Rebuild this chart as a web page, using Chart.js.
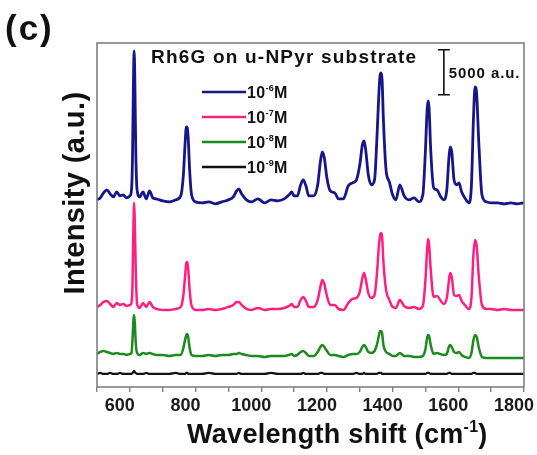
<!DOCTYPE html>
<html>
<head>
<meta charset="utf-8">
<script src="https://cdn.jsdelivr.net/npm/chart.js@4.4.1/dist/chart.umd.min.js"></script>
<style>
  html, body { margin: 0; padding: 0; background: #fff; }
  #wrap { width: 537px; height: 455px; }
</style>
</head>
<body>
<div id="wrap"><canvas id="myChart" width="537" height="455"></canvas></div>
<script>
'use strict';
// Raman shift (cm-1), shared by all four spectra
let shift = [
  500, 510, 520, 530, 540, 550, 560, 570, 580, 590, 600,
  605, 608, 611, 613, 615, 618, 622,
  630, 640, 650, 660, 670, 680, 700, 720, 740, 755,
  763, 768, 772, 775, 778, 782, 788,
  800, 820, 840, 860, 880, 900, 915, 925, 932, 940, 955, 970, 990, 1010, 1030, 1050, 1070, 1085,
  1093, 1100, 1110, 1120, 1128, 1136, 1145, 1160, 1172, 1180, 1186, 1192, 1200, 1210, 1224, 1235, 1250,
  1265, 1278, 1290, 1300, 1308, 1313, 1318, 1326, 1335, 1345,
  1352, 1358, 1362, 1365, 1368, 1372, 1380, 1390, 1400, 1410, 1422, 1435, 1450, 1465, 1480, 1492,
  1500, 1505, 1508, 1511, 1516, 1525, 1535, 1545, 1555, 1565, 1571, 1575, 1580, 1587, 1595, 1602, 1610, 1620, 1632,
  1640, 1646, 1651, 1656, 1662, 1672, 1685, 1700, 1720, 1740, 1760, 1780, 1800
];

// intensities (a.u.), spectra already stacked as in the figure
let m6 = [
  20780, 21000, 21560, 21890, 21450, 21110, 21670, 21220, 21340, 21000, 21220,
  21890, 25220, 34110, 37330, 34670, 26340, 21890,
  21110, 21670, 20890, 21780, 21000, 20890, 20670, 20560, 20780, 21220,
  23560, 26890, 28890, 28780, 27450, 24110, 21340,
  20560, 20450, 20560, 20340, 20560, 20780, 21110, 21780, 22000, 21450, 20780, 20560, 20890, 20450, 20780, 20670, 20890, 21340,
  21670, 21220, 21220, 22450, 23000, 22340, 21220, 21220, 22450, 25000, 26110, 25450, 23220, 21780, 21560, 20890, 20890,
  22340, 22670, 23000, 24670, 26890, 27340, 26340, 23560, 22450, 23000,
  27450, 32450, 34670, 34890, 34110, 29670, 24110, 22780, 21340, 20780, 22450, 21220, 20780, 21000, 20560, 21340,
  26340, 30780, 31780, 31000, 26340, 22110, 21890, 21220, 20780, 21890, 25220, 26670, 26110, 23000, 22450, 22670, 21670, 21000, 20450,
  22450, 29670, 33330, 32450, 27450, 21340, 20560, 20450, 20450, 20340, 20450, 20340, 20450
];
let m7 = [
  8890, 9110, 9450, 9560, 9220, 8890, 9330, 9110, 9220, 9000, 9110,
  9330, 11340, 18000, 20450, 18340, 13000, 9220,
  8780, 9330, 8890, 9450, 8890, 8670, 8560, 8560, 8670, 8890,
  10220, 12230, 13780, 13890, 13000, 10780, 9000,
  8560, 8560, 8670, 8560, 8670, 8890, 9110, 9450, 9450, 9110, 8670, 8560, 8780, 8560, 8670, 8670, 8780, 9000,
  9220, 8890, 8890, 9670, 10000, 9560, 8890, 8890, 9670, 11110, 11890, 11450, 10110, 9110, 9110, 8670, 8560,
  9330, 9780, 9890, 10560, 12110, 12670, 12000, 10440, 9890, 10220,
  12440, 15560, 16890, 17110, 16670, 13890, 10780, 9670, 8890, 8780, 9670, 9000, 8780, 8890, 8670, 9000,
  11890, 15220, 16440, 15890, 13000, 10000, 10110, 9670, 9220, 9890, 11670, 12670, 12230, 10220, 10110, 10220, 9560, 9110, 8670,
  9890, 14670, 16330, 15670, 12440, 9110, 8670, 8670, 8560, 8670, 8560, 8560, 8560
];
let m8 = [
  3670, 3890, 4000, 3890, 3780, 3670, 3780, 3670, 3670, 3560, 3670,
  3780, 5220, 7450, 8000, 7230, 4890, 3780,
  3560, 3780, 3670, 3780, 3670, 3560, 3560, 3450, 3560, 3560,
  4340, 5220, 5780, 5890, 5450, 4340, 3560,
  3450, 3450, 3560, 3450, 3560, 3560, 3670, 3670, 3780, 3670, 3560, 3450, 3450, 3340, 3450, 3450, 3450, 3560,
  3670, 3450, 3560, 3890, 4000, 3780, 3450, 3450, 3890, 4450, 4670, 4450, 4000, 3560, 3560, 3450, 3340,
  3560, 3670, 3670, 3890, 4450, 4670, 4450, 3890, 3780, 4000,
  4670, 5670, 6220, 6220, 6000, 4670, 3890, 3670, 3450, 3450, 3780, 3450, 3450, 3340, 3340, 3450,
  4230, 5450, 5780, 5670, 4670, 3670, 3780, 3670, 3560, 3670, 4450, 4670, 4450, 3890, 3780, 3890, 3560, 3340, 3230,
  3780, 5220, 5780, 5560, 4450, 3340, 3230, 3230, 3230, 3230, 3230, 3230, 3230
];
let m9 = [
  1450, 1560, 1450, 1450, 1560, 1450, 1450, 1560, 1450, 1450, 1450,
  1450, 1560, 1670, 1780, 1670, 1560, 1450,
  1450, 1450, 1560, 1450, 1450, 1450, 1450, 1450, 1560, 1450,
  1450, 1450, 1560, 1560, 1450, 1450, 1450,
  1450, 1450, 1560, 1450, 1450, 1450, 1450, 1450, 1560, 1450, 1450, 1450, 1450, 1450, 1560, 1450, 1450, 1450,
  1450, 1450, 1450, 1450, 1560, 1450, 1450, 1450, 1450, 1560, 1560, 1450, 1450, 1450, 1450, 1450, 1450,
  1450, 1450, 1560, 1450, 1450, 1560, 1450, 1450, 1450, 1450,
  1450, 1560, 1560, 1560, 1450, 1450, 1450, 1450, 1450, 1450, 1450, 1450, 1450, 1450, 1450, 1450,
  1450, 1560, 1560, 1560, 1450, 1450, 1450, 1450, 1450, 1450, 1560, 1560, 1450, 1450, 1450, 1450, 1450, 1450, 1450,
  1450, 1560, 1560, 1450, 1450, 1450, 1450, 1450, 1450, 1450, 1450, 1450, 1450
];

let legendExp = ['-6', '-7', '-8', '-9'];
let xTicks = [600, 800, 1000, 1200, 1400, 1600, 1800];
let scaleBarValue = 5000;

let colors = ['#16168a', '#ff1f80', '#1c8a1c', '#111111'];
let widths = [2.8, 2.5, 2.5, 2.2];
let series = [m6, m7, m8, m9];

function toPoints(arr) {
  return shift.map(function (x, i) { return { x: x, y: arr[i] }; });
}

const FONT = '"Liberation Sans", Arial, sans-serif';

// draw text with a superscript part: parts = [[text, sup?], ...]
function drawRich(ctx, x, y, parts, size, supSize, spacing) {
  ctx.letterSpacing = spacing + 'px';
  for (let i = 0; i < parts.length; i++) {
    let sup = parts[i][1];
    ctx.font = 'bold ' + (sup ? supSize : size) + 'px ' + FONT;
    let yy = sup ? y - size * 0.42 : y;
    ctx.fillText(parts[i][0], x, yy);
    x += ctx.measureText(parts[i][0]).width;
  }
  ctx.letterSpacing = '0px';
  return x;
}

const decorations = {
  id: 'decorations',
  afterDatasetsDraw(chart) {
    let ctx = chart.ctx;
    let a = chart.chartArea;
    let xs = chart.scales.x;
    let ys = chart.scales.y;
    ctx.save();

    // frame
    ctx.strokeStyle = '#808080';
    ctx.lineWidth = 1.6;
    ctx.strokeRect(a.left, a.top, a.right - a.left, a.bottom - a.top);

    ctx.fillStyle = '#111';
    ctx.textBaseline = 'alphabetic';
    ctx.textAlign = 'left';

    // panel label
    ctx.font = 'bold 35px ' + FONT;
    ctx.letterSpacing = '2px';
    ctx.fillText('(c)', 5, 40);
    ctx.letterSpacing = '0px';

    // title inside the plot
    ctx.font = 'bold 19px ' + FONT;
    ctx.letterSpacing = '1.2px';
    ctx.fillText('Rh6G on u-NPyr substrate', 151, 63);
    ctx.letterSpacing = '0px';

    // legend
    for (let i = 0; i < legendExp.length; i++) {
      let y = 92 + i * 25;
      ctx.strokeStyle = colors[i];
      ctx.lineWidth = 2.6;
      ctx.beginPath();
      ctx.moveTo(202, y);
      ctx.lineTo(246, y);
      ctx.stroke();
      drawRich(ctx, 247, y + 6, [['10', false], [legendExp[i], true], ['M', false]], 16, 9, 0.3);
    }

    // 5000 a.u. scale bar
    let bx = xs.getPixelForValue(1556);
    let bTop = ys.getPixelForValue(37450);
    let bBot = ys.getPixelForValue(37450 - scaleBarValue);
    ctx.strokeStyle = '#111';
    ctx.lineWidth = 1.6;
    ctx.beginPath();
    ctx.moveTo(bx, bTop); ctx.lineTo(bx, bBot);
    ctx.moveTo(bx - 6, bTop); ctx.lineTo(bx + 6, bTop);
    ctx.moveTo(bx - 6, bBot); ctx.lineTo(bx + 6, bBot);
    ctx.stroke();
    ctx.font = 'bold 15px ' + FONT;
    ctx.letterSpacing = '0.9px';
    ctx.fillText(scaleBarValue + ' a.u.', bx + 5, 78);
    ctx.letterSpacing = '0px';

    // axis titles
    drawRich(ctx, 187, 443, [['Wavelength shift (cm', false], ['-1', true], [')', false]], 27, 16, 0.3);

    ctx.save();
    ctx.translate(84, 193);
    ctx.rotate(-Math.PI / 2);
    ctx.textAlign = 'center';
    ctx.font = 'bold 29px ' + FONT;
    ctx.letterSpacing = '0.4px';
    ctx.fillText('Intensity (a.u.)', 0, 0);
    ctx.restore();

    ctx.restore();
  }
};

let ctx = document.getElementById('myChart').getContext('2d');
let myChart = new Chart(ctx, {
  type: 'line',
  data: {
    datasets: series.map(function (arr, i) {
      return {
        label: '10^' + legendExp[i] + ' M',
        data: toPoints(arr),
        borderColor: colors[i],
        borderWidth: widths[i],
        borderJoinStyle: 'round',
        pointRadius: 0,
        cubicInterpolationMode: 'monotone',
        fill: false
      };
    }).reverse()
  },
  options: {
    responsive: false,
    animation: false,
    layout: { padding: { top: 43, right: 13, bottom: 0, left: 0 } },
    plugins: {
      legend: { display: false },
      tooltip: { enabled: false }
    },
    scales: {
      x: {
        type: 'linear',
        min: 500,
        max: 1800,
        border: { display: false },
        grid: { drawOnChartArea: false, drawTicks: true, tickLength: 5, color: '#808080', lineWidth: 1.4 },
        ticks: {
          stepSize: 100,
          autoSkip: false,
          maxRotation: 0,
          padding: 3,
          labelOffset: -10,
          color: '#1a1a1a',
          font: { family: FONT, size: 18, weight: 'bold' },
          callback: function (v) { return xTicks.includes(v) ? String(v) : ''; }
        },
        afterFit: function (s) { s.height = 68; s.paddingLeft = 0; s.paddingRight = 0; }
      },
      y: {
        min: 0,
        max: 38200,
        border: { display: false },
        grid: { display: false },
        ticks: { display: false },
        afterFit: function (s) { s.width = 97; s.paddingTop = 0; s.paddingBottom = 0; }
      }
    }
  },
  plugins: [decorations]
});
</script>
</body>
</html>
